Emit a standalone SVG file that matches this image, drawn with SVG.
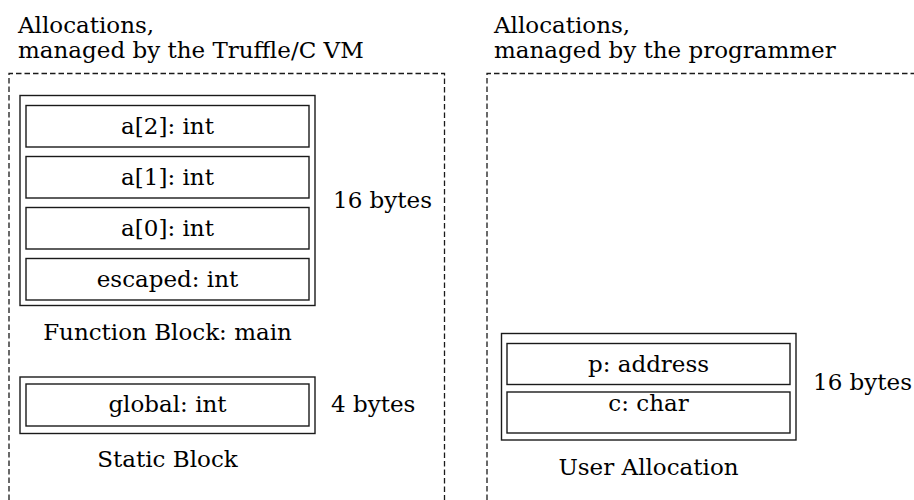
<svg xmlns="http://www.w3.org/2000/svg" width="914" height="500" viewBox="0 0 914 500">
<style>
text{font-family:"DejaVu Serif","Liberation Serif",serif;font-size:23px;fill:#000}
.c{text-anchor:middle}
.box{fill:none;stroke:#1a1a1a;stroke-width:1.4}
.dash{fill:none;stroke:#1a1a1a;stroke-width:1.3;stroke-dasharray:5.5 3}
</style>
<rect width="914" height="500" fill="#fff"/>
<g id="region-vm">
<text x="18" y="33">Allocations,</text>
<text x="18" y="58">managed by the Truffle/C VM</text>
<path class="dash" d="M9,500 V73.5 H444.5 V500"/>
</g>
<g id="region-programmer">
<text x="494" y="33">Allocations,</text>
<text x="494" y="58">managed by the programmer</text>
<path class="dash" d="M487,500 V73.5 H914"/>
</g>
<g id="function-block">
<rect class="box" x="20" y="95.5" width="295" height="210"/>
<rect class="box" x="26" y="105.5" width="283" height="41.5"/>
<text class="c" x="167.5" y="134">a[2]: int</text>
<rect class="box" x="26" y="156.5" width="283" height="41.5"/>
<text class="c" x="167.5" y="185">a[1]: int</text>
<rect class="box" x="26" y="207.5" width="283" height="41.5"/>
<text class="c" x="167.5" y="236">a[0]: int</text>
<rect class="box" x="26" y="258.5" width="283" height="41.5"/>
<text class="c" x="167.5" y="287">escaped: int</text>
<text x="333" y="208">16 bytes</text>
<text class="c" x="167.5" y="340">Function Block: main</text>
</g>
<g id="static-block">
<rect class="box" x="20" y="377" width="295" height="56.5"/>
<rect class="box" x="26" y="384" width="283" height="42"/>
<text class="c" x="167.5" y="412">global: int</text>
<text x="331" y="412">4 bytes</text>
<text class="c" x="167.5" y="467">Static Block</text>
</g>
<g id="user-allocation">
<rect class="box" x="501.5" y="333.5" width="294.5" height="106.5"/>
<rect class="box" x="507" y="343.5" width="283" height="41"/>
<text class="c" x="648.5" y="372">p: address</text>
<rect class="box" x="507" y="392" width="283" height="41"/>
<text class="c" x="648.5" y="411">c: char</text>
<text x="813" y="390">16 bytes</text>
<text class="c" x="648.5" y="475">User Allocation</text>
</g>
<g id="connectors"></g>
</svg>
